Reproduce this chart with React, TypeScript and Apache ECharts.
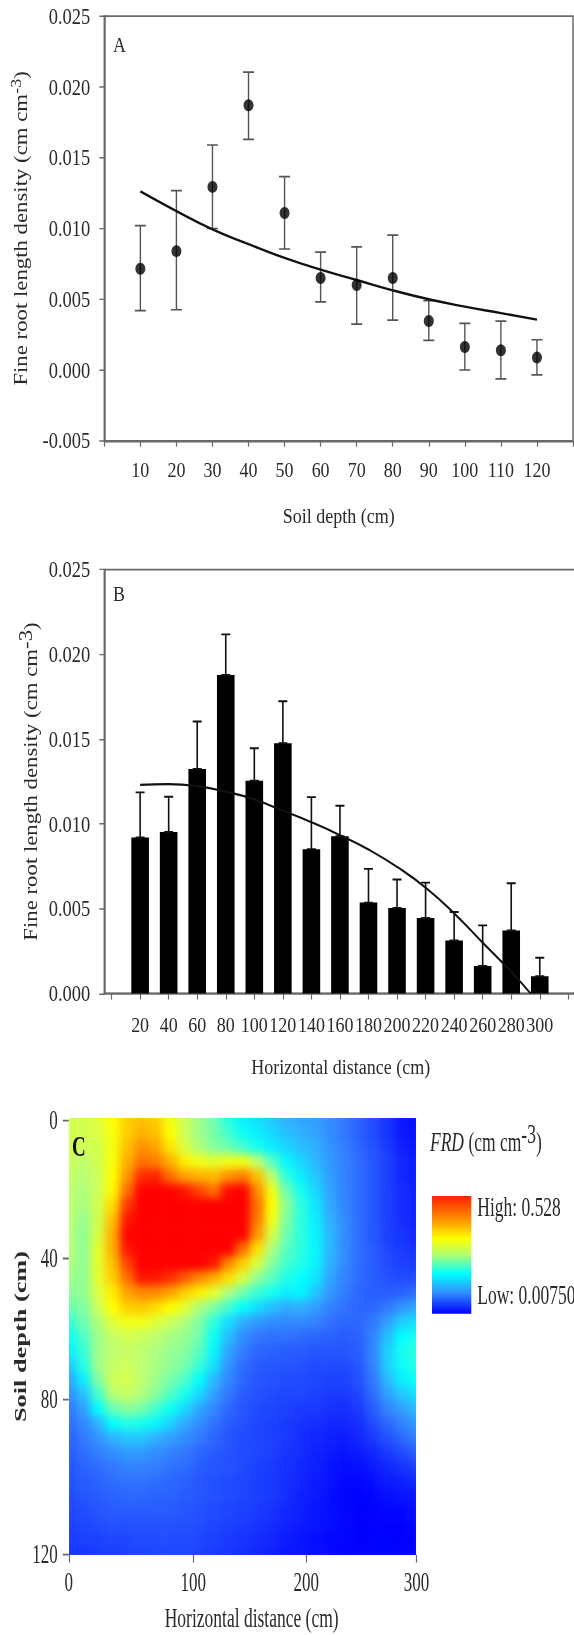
import React, { useEffect, useRef } from "react";
import * as echarts from "echarts";

// Panel A
const depthCats = [10, 20, 30, 40, 50, 60, 70, 80, 90, 100, 110, 120];
const depthMean = [0.00716, 0.0084, 0.01294, 0.0187, 0.0111, 0.0065, 0.006, 0.0065, 0.00346, 0.00163, 0.00139, 0.00088];
const depthHigh = [0.0102, 0.01267, 0.0159, 0.02105, 0.01367, 0.00833, 0.0087, 0.00953, 0.0049, 0.0033, 0.00346, 0.00214];
const depthLow = [0.0042, 0.00426, 0.01, 0.0163, 0.00855, 0.00482, 0.00324, 0.00353, 0.0021, 0, -0.00063, -0.00034];
const depthFit = [0.01262, 0.01123, 0.00994, 0.0089, 0.00792, 0.00709, 0.00636, 0.00563, 0.005, 0.00448, 0.00402, 0.00356];
const depthTicks = [0, 10, 20, 30, 40, 50, 60, 70, 80, 90, 100, 110, 120, 130];

// Panel B
const distCats = [20, 40, 60, 80, 100, 120, 140, 160, 180, 200, 220, 240, 260, 280, 300];
const distMean = [0.0092, 0.00952, 0.01324, 0.01879, 0.01255, 0.01476, 0.00851, 0.00928, 0.00536, 0.00504, 0.00445, 0.00313, 0.00162, 0.00372, 0.00102];
const distHigh = [0.01186, 0.0116, 0.01604, 0.02118, 0.01446, 0.01724, 0.01158, 0.01107, 0.00735, 0.00672, 0.00654, 0.00481, 0.00402, 0.0065, 0.00211];
const distFitX = [20, 40, 60, 80, 100, 120, 140, 160, 180, 200, 220, 240, 260, 280, 293.6];
const distFitY = [0.0123, 0.01235, 0.01223, 0.0119, 0.01145, 0.01078, 0.0101, 0.00934, 0.00849, 0.00747, 0.00625, 0.00473, 0.003, 0.00128, 0];
const distTicks = [0, 20, 40, 60, 80, 100, 120, 140, 160, 180, 200, 220, 240, 260, 280, 300, 320];

// Panel C: percent of the legend range, read at nodes across (0-300 cm) and down (0-120 cm)
const heatRows = [
  [63, 63, 65, 70, 76, 78, 76, 68, 62, 56, 50, 43, 38, 36, 33, 30, 28, 27, 24, 20, 16, 12, 8, 3, 2],
  [63, 63, 64, 69, 76, 80, 78, 70, 62, 56, 51, 46, 41, 38, 35, 32, 30, 28, 24, 20, 16, 12, 8, 4, 2],
  [63, 62, 63, 69, 78, 85, 82, 73, 64, 58, 53, 50, 46, 42, 38, 35, 32, 30, 25, 21, 17, 13, 9, 5, 3],
  [62, 60, 63, 69, 80, 90, 88, 80, 72, 68, 66, 68, 68, 60, 48, 39, 35, 31, 26, 22, 18, 14, 10, 6, 4],
  [61, 59, 62, 70, 84, 96, 97, 90, 82, 80, 79, 85, 88, 78, 60, 44, 38, 33, 27, 22, 18, 14, 10, 6, 4],
  [60, 58, 62, 71, 90, 100, 100, 100, 98, 94, 90, 99, 100, 86, 68, 50, 42, 35, 28, 22, 18, 14, 10, 7, 5],
  [60, 57, 63, 74, 95, 100, 100, 100, 100, 100, 100, 100, 100, 90, 70, 54, 44, 37, 29, 23, 18, 14, 10, 7, 5],
  [60, 55, 63, 78, 98, 100, 100, 100, 100, 100, 100, 100, 100, 88, 68, 52, 44, 38, 30, 24, 18, 14, 10, 7, 5],
  [59, 54, 64, 80, 100, 100, 100, 100, 100, 100, 100, 100, 100, 84, 64, 50, 44, 39, 31, 24, 18, 14, 10, 8, 6],
  [59, 54, 66, 80, 98, 100, 100, 100, 100, 100, 100, 100, 90, 74, 58, 48, 44, 39, 31, 24, 18, 15, 11, 9, 7],
  [58, 54, 66, 78, 94, 100, 100, 100, 100, 100, 98, 86, 76, 64, 53, 46, 43, 39, 30, 24, 18, 15, 12, 10, 9],
  [56, 54, 66, 76, 90, 98, 98, 96, 92, 86, 80, 74, 64, 54, 48, 43, 40, 37, 28, 22, 18, 15, 13, 12, 12],
  [54, 54, 64, 72, 82, 86, 86, 82, 76, 72, 66, 58, 50, 45, 42, 38, 39, 33, 26, 21, 17, 15, 15, 16, 18],
  [50, 52, 62, 70, 76, 77, 74, 70, 66, 58, 52, 46, 40, 36, 32, 29, 30, 27, 22, 19, 17, 17, 20, 25, 28],
  [45, 50, 58, 65, 68, 68, 65, 62, 58, 52, 44, 36, 30, 26, 24, 23, 23, 22, 19, 17, 17, 20, 27, 34, 36],
  [41, 47, 56, 61, 63, 62, 60, 57, 55, 50, 41, 32, 24, 20, 19, 19, 18, 17, 16, 15, 16, 22, 32, 40, 42],
  [38, 45, 56, 60, 61, 60, 58, 55, 53, 48, 39, 28, 21, 17, 16, 15, 15, 14, 14, 14, 15, 23, 34, 42, 44],
  [33, 43, 56, 61, 62, 60, 57, 54, 51, 45, 36, 25, 18, 15, 14, 14, 13, 12, 12, 12, 14, 22, 34, 41, 43],
  [28, 38, 52, 62, 63, 60, 56, 51, 47, 40, 31, 23, 17, 14, 13, 12, 12, 11, 10, 10, 13, 20, 31, 38, 41],
  [24, 32, 46, 59, 61, 58, 53, 47, 42, 35, 27, 20, 15, 13, 12, 11, 11, 10, 9, 9, 11, 18, 27, 33, 36],
  [20, 27, 40, 49, 53, 51, 46, 41, 35, 28, 23, 17, 14, 12, 11, 10, 9, 9, 8, 7, 9, 15, 22, 27, 31],
  [18, 23, 30, 40, 43, 42, 39, 34, 29, 24, 19, 15, 13, 11, 10, 9, 8, 7, 6, 6, 7, 12, 17, 22, 26],
  [16, 20, 25, 30, 33, 33, 30, 27, 24, 20, 17, 14, 12, 11, 10, 9, 7, 6, 5, 4, 6, 9, 13, 17, 21],
  [15, 18, 21, 24, 26, 26, 24, 22, 20, 17, 15, 13, 12, 11, 10, 8, 7, 5, 4, 3, 4, 6, 9, 12, 15],
  [14, 16, 18, 20, 22, 22, 21, 19, 18, 15, 14, 13, 12, 10, 9, 8, 6, 5, 3, 2, 2, 4, 6, 8, 10],
  [13, 15, 16, 18, 19, 19, 18, 17, 16, 14, 13, 12, 11, 10, 9, 7, 6, 4, 3, 1, 1, 2, 4, 5, 6],
  [12, 14, 15, 16, 17, 17, 16, 16, 15, 14, 13, 12, 11, 10, 9, 7, 5, 4, 2, 1, 0, 1, 2, 3, 3],
  [11, 12, 14, 15, 15, 15, 15, 15, 14, 13, 12, 11, 10, 9, 8, 6, 5, 3, 2, 1, 0, 0, 1, 1, 2],
  [10, 11, 12, 13, 13, 13, 13, 13, 13, 12, 11, 10, 9, 8, 7, 5, 4, 3, 2, 1, 0, 0, 0, 0, 1],
  [9, 10, 10, 11, 11, 12, 12, 12, 12, 11, 10, 9, 8, 7, 6, 4, 3, 2, 1, 1, 0, 0, 0, 0, 0],
  [8, 8, 9, 9, 10, 10, 11, 11, 11, 10, 9, 8, 7, 6, 5, 3, 3, 2, 1, 0, 0, 0, 0, 0, 0],
];
const heatColors = ["#0000ff", "#1c40ff", "#3278ff", "#30b0ff", "#00ffff", "#70ffb0", "#c0ff70", "#ffff00", "#ffb000", "#ff7000", "#ff0000"];
const heatXPos = [0, 107.4, 204.9, 300];
const heatXLabels = ["0", "100", "200", "300"];
const heatYPos = [0.4, 38.5, 77.2, 119.8];
const heatYLabels = ["0", "40", "80", "120"];

const SERIF = "Liberation Serif";
const TXT = "#2a2a2a";
const AXIS = "#6a6a6a";
const SY1 = 1.2;
const SY2 = 1.55;
const C_TOP = 1095;

const rootLabel = (sup: any) => ({
  fontFamily: SERIF,
  fontSize: 19,
  color: TXT,
  rich: { sup: { fontFamily: SERIF, fontSize: sup, color: TXT, padding: [0, 0, 9, 0] } },
});

const leftAxis = (gridIndex: number, min: number, nameGap: number, sup: number) => ({
  type: "value",
  gridIndex,
  min,
  max: 0.025,
  interval: 0.005,
  name: "Fine root length density (cm cm{sup|-3})",
  nameLocation: "middle",
  nameRotate: 90,
  nameGap,
  nameMoveOverlap: false,
  nameTextStyle: rootLabel(sup),
  splitLine: { show: false },
  axisLine: { show: true, onZero: false, lineStyle: { color: AXIS, width: 1.5 } },
  axisTick: { show: true, length: 5, lineStyle: { color: AXIS, width: 1.2 } },
  axisLabel: { fontFamily: SERIF, fontSize: 18.5, color: TXT, margin: 14, formatter: (v: number) => v.toFixed(3) },
});

const bottomAxis = (
  gridIndex: number,
  min: number,
  max: number,
  name: string,
  ticks: number[],
  labels: number[],
  fontSize: number,
  nameGap: number,
  margin: number
) => ({
  type: "value",
  gridIndex,
  min,
  max,
  name,
  nameLocation: "middle",
  nameGap,
  nameMoveOverlap: false,
  nameTextStyle: { fontFamily: SERIF, fontSize: 18, color: TXT },
  splitLine: { show: false },
  axisLine: { show: true, onZero: false, lineStyle: { color: AXIS, width: 1.5 } },
  axisTick: { show: true, length: 5, customValues: ticks, lineStyle: { color: AXIS, width: 1.2 } },
  axisLabel: { fontFamily: SERIF, fontSize, color: TXT, margin, customValues: labels, hideOverlap: false },
});

const errorRender = (capHalf: number, color: string, width: number) => (_: any, api: any) => {
  const x = api.value(0);
  const lo = api.coord([x, api.value(1)]);
  const hi = api.coord([x, api.value(2)]);
  const style = { stroke: color, lineWidth: width, fill: "none" };
  return {
    type: "group",
    children: [
      { type: "line", shape: { x1: hi[0], y1: hi[1], x2: lo[0], y2: lo[1] }, style },
      { type: "line", shape: { x1: hi[0] - capHalf, y1: hi[1], x2: hi[0] + capHalf, y2: hi[1] }, style },
      { type: "line", shape: { x1: lo[0] - capHalf, y1: lo[1], x2: lo[0] + capHalf, y2: lo[1] }, style },
    ],
  };
};

const linePanelsOption = () => ({
  animation: false,
  backgroundColor: "transparent",
  grid: [
    { left: 104.3, top: 16.2 / SY1, width: 468.7, height: 424.6 / SY1, show: true, borderColor: AXIS, borderWidth: 1.5, backgroundColor: "transparent", outerBoundsMode: "none" },
    { left: 104.3, top: 569.6 / SY1, width: 473, height: 423.9 / SY1, show: true, borderColor: AXIS, borderWidth: 1.5, backgroundColor: "transparent", outerBoundsMode: "none" },
  ],
  xAxis: [
    bottomAxis(0, 0, 130, "Soil depth (cm)", depthTicks, depthCats, 18, 53, 15),
    bottomAxis(1, -5.1, 326.3, "Horizontal distance (cm)", distTicks, distCats, 18, 52, 17),
  ],
  yAxis: [leftAxis(0, -0.005, 72, 15), leftAxis(1, 0, 60, 19)],
  graphic: [
    { type: "text", x: 113, y: 44 / SY1, style: { text: "A", fontFamily: SERIF, fontSize: 18, fill: TXT, verticalAlign: "middle" } },
    { type: "text", x: 113, y: 593 / SY1, style: { text: "B", fontFamily: SERIF, fontSize: 18, fill: TXT, verticalAlign: "middle" } },
  ],
  series: [
    {
      type: "custom",
      xAxisIndex: 0,
      yAxisIndex: 0,
      renderItem: errorRender(5.5, "#555555", 1.4),
      data: depthCats.map((c, i) => [c, depthLow[i], depthHigh[i]]),
      z: 2,
    },
    {
      type: "line",
      xAxisIndex: 0,
      yAxisIndex: 0,
      smooth: true,
      showSymbol: false,
      lineStyle: { color: "#111", width: 2 },
      data: depthCats.map((c, i) => [c, depthFit[i]]),
      z: 3,
    },
    {
      type: "scatter",
      xAxisIndex: 0,
      yAxisIndex: 0,
      symbol: "circle",
      symbolSize: 10,
      itemStyle: { color: "#000" },
      data: depthCats.map((c, i) => [c, depthMean[i]]),
      z: 4,
    },
    {
      type: "bar",
      xAxisIndex: 1,
      yAxisIndex: 1,
      barWidth: 17.6,
      itemStyle: { color: "#000" },
      data: distCats.map((c, i) => [c, distMean[i]]),
      z: 2,
    },
    {
      type: "custom",
      xAxisIndex: 1,
      yAxisIndex: 1,
      renderItem: errorRender(4.5, "#111", 1.6),
      data: distCats.map((c, i) => [c, distMean[i], distHigh[i]]),
      z: 3,
    },
    {
      type: "line",
      xAxisIndex: 1,
      yAxisIndex: 1,
      smooth: true,
      showSymbol: false,
      lineStyle: { color: "#111", width: 1.8 },
      data: distFitX.map((x, i) => [x, distFitY[i]]),
      z: 4,
    },
  ],
});

const heatAxesOption = () => ({
  animation: false,
  backgroundColor: "transparent",
  grid: { left: 68.8, top: (1118.4 - C_TOP) / SY2, width: 347.7, height: 436.3 / SY2, outerBoundsMode: "none" },
  xAxis: {
    type: "value",
    min: 0,
    max: 300,
    name: "Horizontal distance (cm)",
    nameLocation: "middle",
    nameGap: 32,
    nameMoveOverlap: false,
    nameTextStyle: { fontFamily: SERIF, fontSize: 17.5, color: TXT, padding: [0, 0, 0, 18] },
    splitLine: { show: false },
    axisLine: { show: false, onZero: false },
    axisTick: { show: true, length: 5, customValues: heatXPos, lineStyle: { color: AXIS, width: 1.2 } },
    axisLabel: {
      fontFamily: SERIF,
      fontSize: 17,
      color: TXT,
      margin: 9,
      customValues: heatXPos,
      formatter: (v: number) => heatXLabels[heatXPos.indexOf(v)],
    },
  },
  yAxis: {
    type: "value",
    inverse: true,
    min: 0,
    max: 120,
    name: "Soil depth (cm)",
    nameLocation: "middle",
    nameRotate: 90,
    nameGap: 40,
    nameMoveOverlap: false,
    nameTextStyle: { fontFamily: SERIF, fontWeight: "bold", fontSize: 17, color: TXT },
    splitLine: { show: false },
    axisLine: { show: false, onZero: false },
    axisTick: { show: true, length: 6, customValues: heatYPos, lineStyle: { color: AXIS, width: 1.2 } },
    axisLabel: {
      fontFamily: SERIF,
      fontSize: 17,
      color: TXT,
      margin: 11,
      customValues: heatYPos,
      formatter: (v: number) => heatYLabels[heatYPos.indexOf(v)],
    },
  },
  graphic: [
    { type: "text", x: 72, y: (1145.6 - C_TOP) / SY2, z: 20, style: { text: "C", fontFamily: SERIF, fontWeight: "bold", fontSize: 19, fill: "#111", verticalAlign: "middle" } },
    {
      type: "text",
      x: 430,
      y: (1141.7 - C_TOP) / SY2,
      style: {
        text: "{i|FRD} (cm cm{sup|-3})",
        fontFamily: SERIF,
        fontSize: 17.5,
        fill: TXT,
        verticalAlign: "middle",
        rich: {
          i: { fontFamily: SERIF, fontStyle: "italic", fontSize: 17.5, fill: TXT },
          sup: { fontFamily: SERIF, fontSize: 17.5, fill: TXT, padding: [0, 0, 10, 0] },
        },
      },
    },
    {
      type: "rect",
      shape: { x: 432, y: (1196 - C_TOP) / SY2, width: 39.3, height: 117.7 / SY2 },
      style: {
        fill: new echarts.graphic.LinearGradient(0, 0, 0, 1, [
          { offset: 0, color: "#ff2000" },
          { offset: 0.2, color: "#ff9000" },
          { offset: 0.36, color: "#ffff00" },
          { offset: 0.5, color: "#b0ff70" },
          { offset: 0.66, color: "#00ffff" },
          { offset: 0.82, color: "#3090ff" },
          { offset: 1, color: "#0000ff" },
        ]),
      },
    },
    { type: "text", x: 477.3, y: (1206.7 - C_TOP) / SY2, style: { text: "High: 0.528", fontFamily: SERIF, fontSize: 17.5, fill: TXT, verticalAlign: "middle" } },
    { type: "text", x: 477.3, y: (1295 - C_TOP) / SY2, style: { text: "Low: 0.00750", fontFamily: SERIF, fontSize: 17.5, fill: TXT, verticalAlign: "middle" } },
  ],
  series: [],
});

const heatOption = () => ({
  animation: false,
  backgroundColor: "transparent",
  grid: { left: 0, top: 0, right: 0, bottom: 0, outerBoundsMode: "none" },
  xAxis: { type: "category", show: false, data: heatRows[0].map((_, i) => i) },
  yAxis: { type: "category", show: false, inverse: true, data: heatRows.map((_, j) => j) },
  visualMap: { show: false, min: 0, max: 100, inRange: { color: heatColors } },
  series: [
    {
      type: "heatmap",
      data: heatRows.flatMap((row, j) => row.map((v, i) => [i, j, v])),
      itemStyle: { borderWidth: 0 },
    },
  ],
});

export default function App() {
  const lineRef = useRef<HTMLDivElement>(null);
  const heatRef = useRef<HTMLDivElement>(null);
  const axesRef = useRef<HTMLDivElement>(null);

  useEffect(() => {
    const a = echarts.init(lineRef.current!, undefined, { renderer: "svg" });
    const h = echarts.init(heatRef.current!, undefined, { renderer: "svg" });
    const c = echarts.init(axesRef.current!, undefined, { renderer: "svg" });
    a.setOption(linePanelsOption() as any);
    h.setOption(heatOption() as any);
    c.setOption(heatAxesOption() as any);
    return () => {
      a.dispose();
      h.dispose();
      c.dispose();
    };
  }, []);

  return (
    <div style={{ position: "absolute", left: 0, top: 0, width: 574, height: 1635, overflow: "hidden", background: "#fff" }}>
      <div
        ref={lineRef}
        style={{ position: "absolute", left: 0, top: 0, width: 574, height: 1095 / SY1, transform: `scaleY(${SY1})`, transformOrigin: "top left", filter: "blur(0.5px)" }}
      />
      <div style={{ position: "absolute", left: 68.8, top: 1118.4, width: 347.7, height: 436.3, overflow: "hidden" }}>
        <div ref={heatRef} style={{ position: "absolute", left: -7.25, top: -7.27, width: 362.2, height: 450.8, filter: "blur(4px)" }} />
      </div>
      <div
        ref={axesRef}
        style={{ position: "absolute", left: 0, top: C_TOP, width: 574, height: 540 / SY2, transform: `scaleY(${SY2})`, transformOrigin: "top left", filter: "blur(0.5px)" }}
      />
    </div>
  );
}
